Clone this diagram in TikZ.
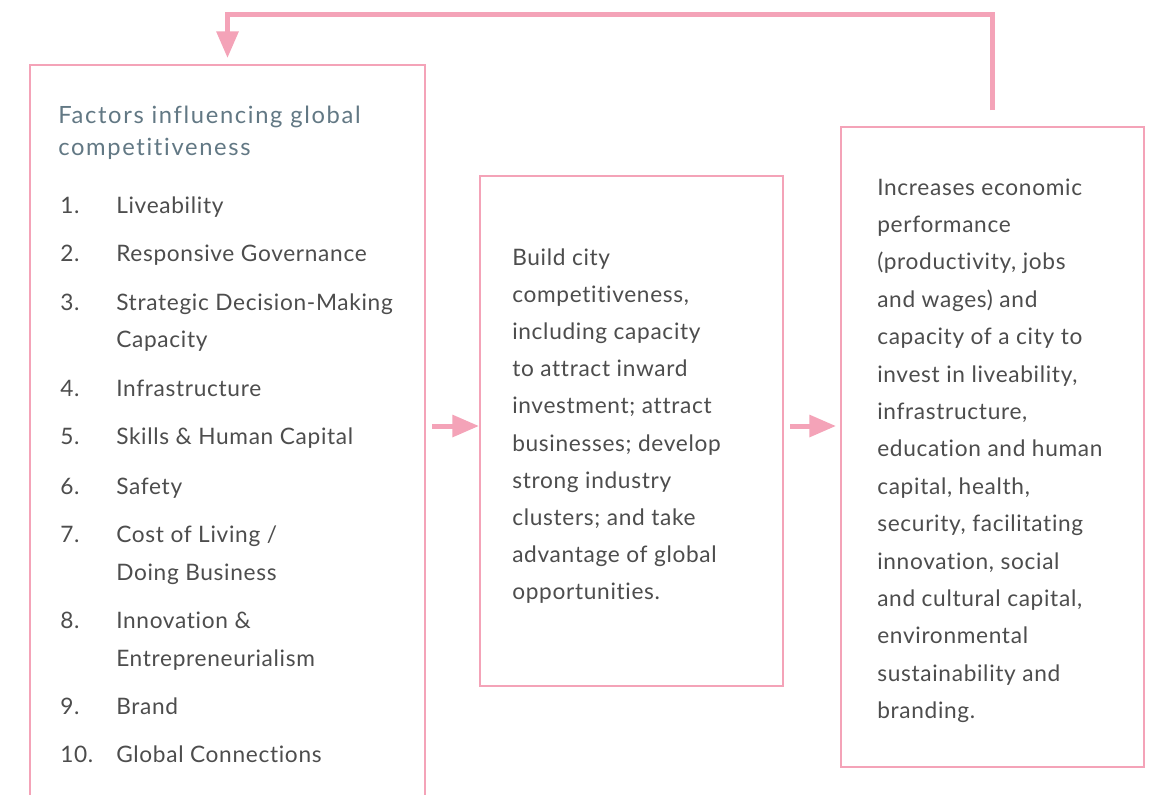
\documentclass[tikz,border=0pt]{standalone}
\usepackage{fontspec}
\setmainfont[LetterSpace=3,Ligatures={NoCommon}]{Lato}
\newfontfamily\titlefont[LetterSpace=7,Ligatures={NoCommon}]{Lato}
\usetikzlibrary{arrows.meta}
\definecolor{pinkline}{HTML}{F4A3B8}
\definecolor{bodytext}{HTML}{4D4D4D}
\definecolor{titletext}{HTML}{627884}
\begin{document}
\begin{tikzpicture}[x=0.75pt,y=-0.75pt,
  box/.style={draw=pinkline, line width=1.5pt, anchor=north west, inner sep=0pt, outer sep=0pt},
  txtline/.style={anchor=base west, inner sep=0pt, text=bodytext, font=\fontsize{17}{20}\selectfont},
  ttl/.style={anchor=base west, inner sep=0pt, text=titletext, font=\titlefont\fontsize{17.8}{20}\selectfont},
  arr/.style={draw=pinkline, line width=3.75pt, -{Triangle[length=20pt,width=16pt]}}]
\useasboundingbox (0,0) rectangle (1152,794);
\clip (0,0) rectangle (1152,794);
\fill[white] (0,0) rectangle (1152,794);
% boxes
\node[box, minimum width=296.25pt, minimum height=573.75pt] (b1) at (30,65) {};
\node[box, minimum width=227.25pt, minimum height=382.5pt] (b2) at (480,176) {};
\node[box, minimum width=227.25pt, minimum height=480pt] (b3) at (841,127) {};
% title
\node[ttl] (t1) at (58,123) {Factors influencing global};
\node[ttl] (t2) at (58,155) {competitiveness};
% list numbers
\foreach \n/\yy [count=\k] in {1./213, 2./261, 3./310, 4./396, 5./444, 6./494, 7./542, 8./628, 9./714, 10./762}
  \node[txtline] (n\k) at (60,\yy) {\n};
% list texts
\foreach \yy/\t [count=\k] in {213/{Liveability}, 261/{Responsive Governance}, 310/{Strategic Decision-Making}, 347/{Capacity}, 396/{Infrastructure}, 444/{Skills \& Human Capital}, 494/{Safety}, 542/{Cost of Living /}, 580/{Doing Business}, 628/{Innovation \&}, 666/{Entrepreneurialism}, 714/{Brand}, 762/{Global Connections}}
  \node[txtline] (l\k) at (116,\yy) {\t};
% middle box text
\foreach \t [count=\k from 0] in {{Build city},{competitiveness,},{including capacity},{to attract inward},{investment; attract},{businesses; develop},{strong industry},{clusters; and take},{advantage of global},{opportunities.}}
  \node[txtline] (m\k) at (512,{265+37.2*\k}) {\t};
% right box text
\foreach \t [count=\k from 0] in {{Increases economic},{performance},{(productivity, jobs},{and wages) and},{capacity of a city to},{invest in liveability,},{infrastructure,},{education and human},{capital, health,},{security, facilitating},{innovation, social},{and cultural capital,},{environmental},{sustainability and},{branding.}}
  \node[txtline] (r\k) at (877,{195+37.4*\k}) {\t};
% arrows
\coordinate (ay) at (0,426);
\draw[arr, shorten <=5.25pt, shorten >=0.75pt] (b1.east |- ay) -- (b2.west |- ay);
\draw[arr, shorten <=5.25pt, shorten >=3.75pt] (b2.east |- ay) -- (b3.west |- ay);
\draw[arr, shorten <=12.75pt, shorten >=5.25pt] (b3.north) -- ++(0,-113) -| (b1.north);
\end{tikzpicture}
\end{document}
